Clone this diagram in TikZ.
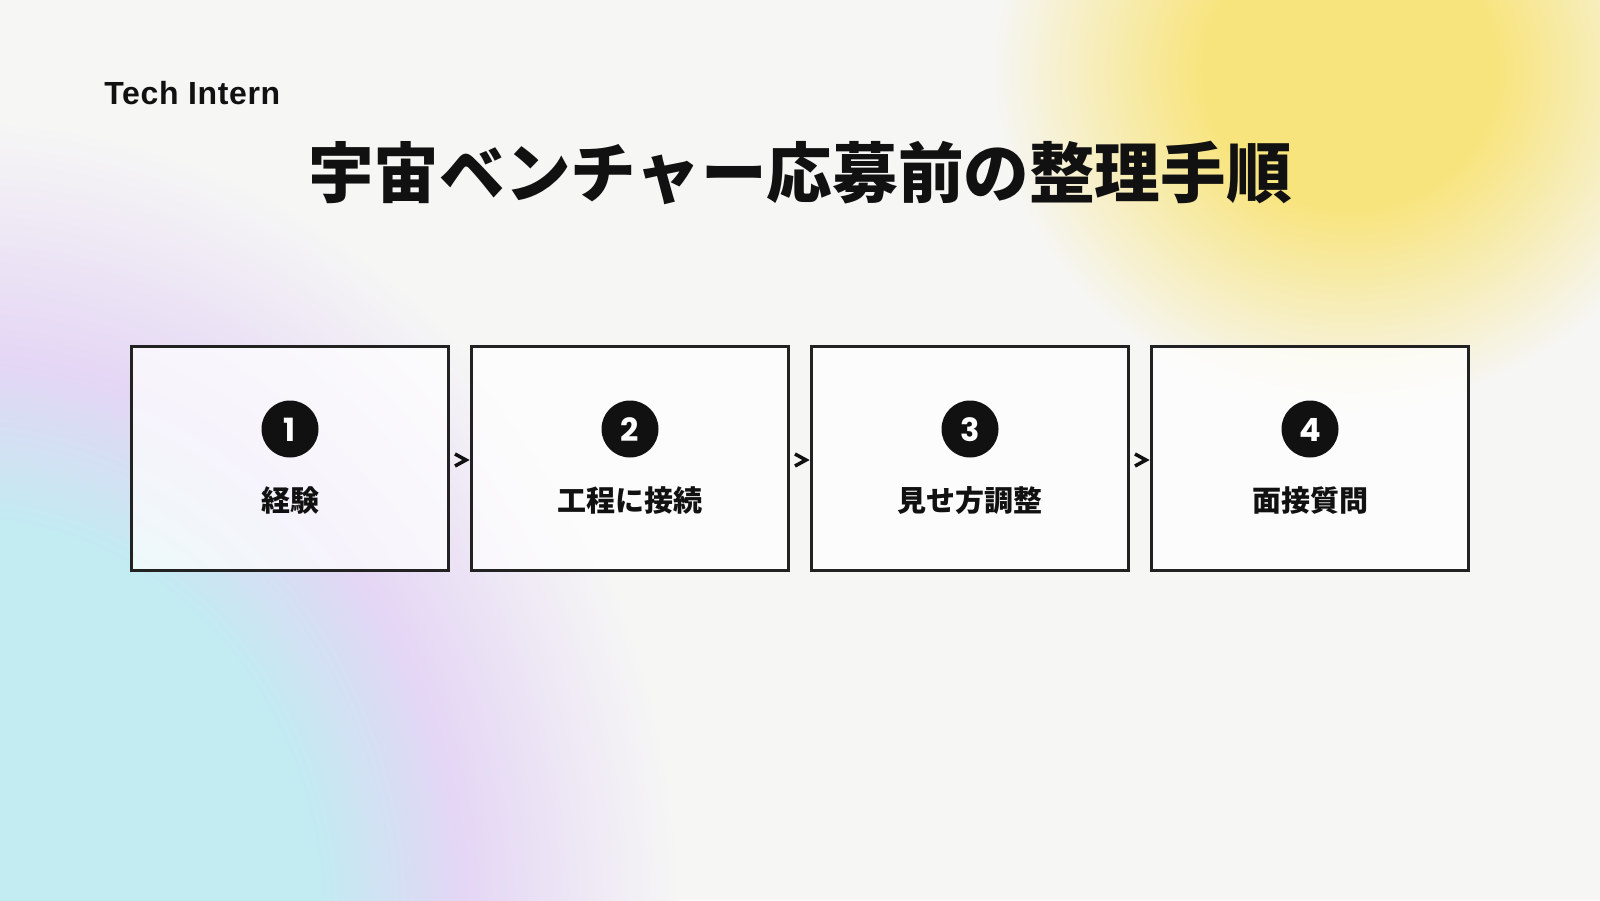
\documentclass[tikz,border=0pt]{standalone}
\usepackage{fontspec}
\setmainfont{Liberation Sans}
\IfFontExistsTF{Noto Sans CJK JP Black}
  {\newfontfamily\cjkheavy{Noto Sans CJK JP Black}}
  {\newfontfamily\cjkheavy{Noto Sans CJK JP}[FakeBold=1.5]}
\IfFontExistsTF{Poppins}
  {\newfontfamily\numfont{Poppins}}
  {\newfontfamily\numfont{Liberation Sans}}
\newfontfamily\brandfont{Liberation Sans}[LetterSpace=2.0]
\definecolor{bgc}{HTML}{F6F6F5}
\definecolor{cyanc}{HTML}{C2EBF2}
\definecolor{lavc}{HTML}{E4D6F5}
\definecolor{yelc}{HTML}{F8E47C}
\definecolor{inkc}{HTML}{111111}
\definecolor{boxc}{HTML}{222222}
\pgfdeclareradialshading{cyanblob}{\pgfpoint{0bp}{0bp}}{color(0bp)=(cyanc); color(12.5bp)=(cyanc); color(17.5bp)=(lavc); color(25bp)=(bgc); color(50bp)=(bgc)}
\pgfdeclareradialshading{yellowblob}{\pgfpoint{0bp}{0bp}}{color(0bp)=(yelc); color(10bp)=(yelc); color(25bp)=(bgc); color(50bp)=(bgc)}
\begin{document}
\begin{tikzpicture}[x=0.5pt,y=-0.5pt,
  stepbox/.style={draw=boxc, line width=1.5pt, fill=white, fill opacity=0.72,
    minimum width=158.5pt, minimum height=112pt, inner sep=0pt},
  numdot/.style={circle, fill=inkc, minimum size=28.5pt, inner sep=0pt},
  numtxt/.style={text=white, font=\numfont\bfseries\fontsize{16pt}{16pt}\selectfont, anchor=base, inner sep=0pt},
  steplabel/.style={text=inkc, font=\cjkheavy\fontsize{14.5pt}{14.5pt}\selectfont, anchor=base, inner sep=0pt},
  chev/.style={draw=inkc, line width=1.75pt, line join=miter}]
\useasboundingbox (0,0) rectangle (1600,900);
\fill[bgc] (0,0) rectangle (1600,900);
\begin{scope}
  \clip (0,0) rectangle (1600,900);
  \shade[shading=cyanblob] (-40,920) ellipse [x radius=720, y radius=800];
  \shade[shading=yellowblob] (1350,70) ellipse [x radius=360, y radius=340];
\end{scope}
\node[anchor=base west, inner sep=0pt, text=inkc,
  font=\brandfont\bfseries\fontsize{16pt}{16pt}\selectfont] (brand) at (104,104) {Tech Intern};
\node[anchor=base, inner sep=0pt, text=inkc,
  font=\cjkheavy\fontsize{32.8pt}{32.8pt}\selectfont] (title) at (800,197) {宇宙ベンチャー応募前の整理手順};
\foreach \i/\x/\lab in {1/290/経験, 2/630/工程に接続, 3/970/見せ方調整, 4/1310/面接質問} {
  \node[stepbox] (b\i) at (\x,458.5) {};
  \node[numdot] (d\i) at (\x,429) {};
  \node[numtxt] (n\i) at (\x,441) {\i};
  \node[steplabel] (l\i) at (\x,511) {\lab};
}
\foreach \a/\b in {1/2,2/3,3/4}
  \draw[chev] ([shift={(-15,-4.5)}]b\b.west) -- ([shift={(-4,1.5)}]b\b.west) -- ([shift={(-15,7.5)}]b\b.west);
\end{tikzpicture}
\end{document}
